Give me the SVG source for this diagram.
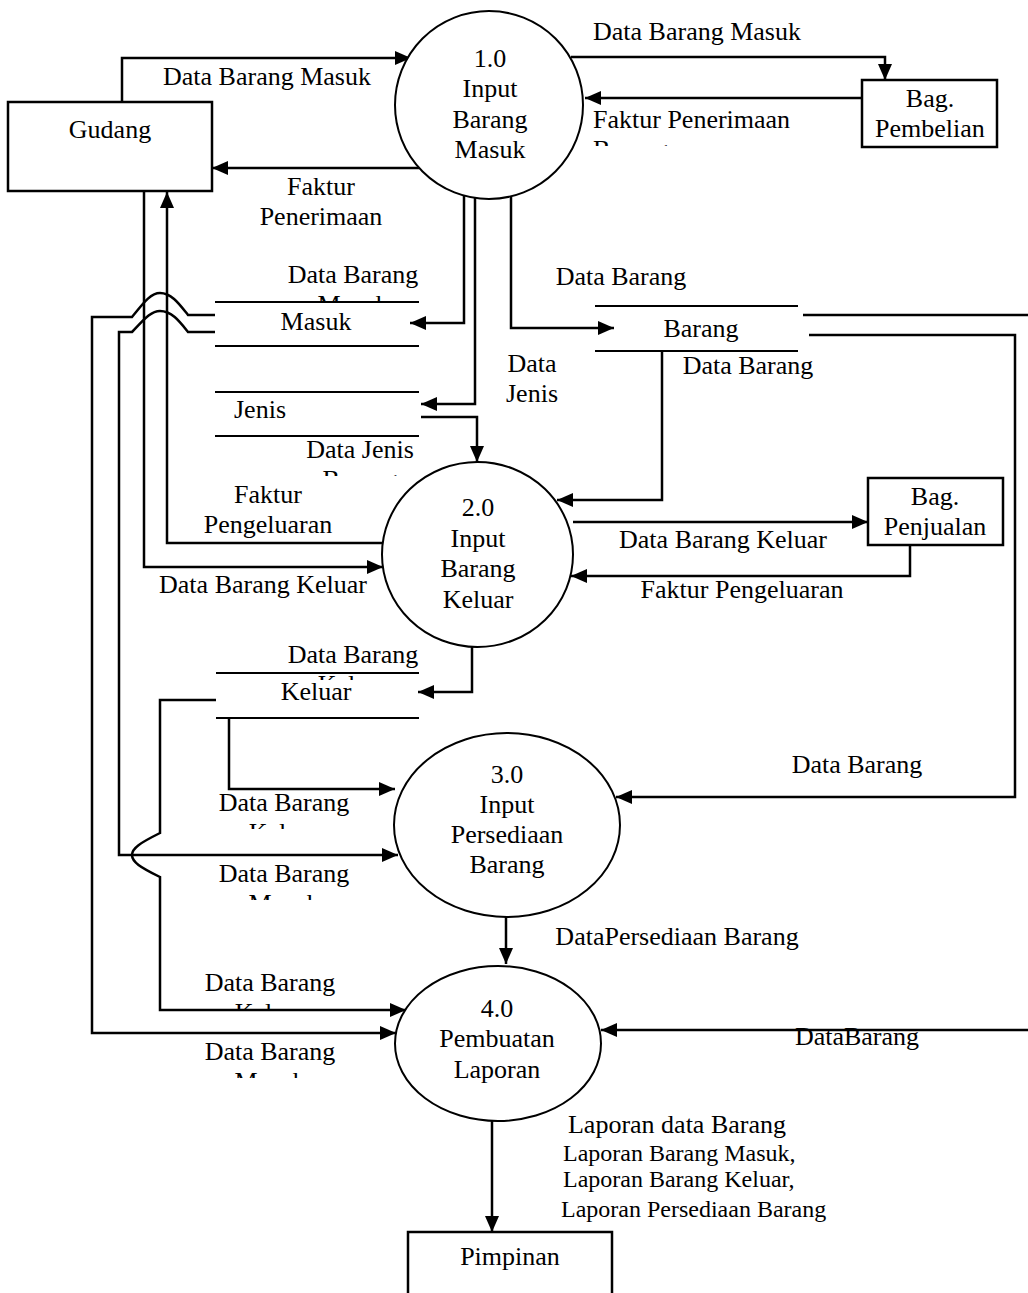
<svg xmlns="http://www.w3.org/2000/svg" width="1028" height="1293" viewBox="0 0 1028 1293">
<style>
text{font-family:"Liberation Serif","Times New Roman",serif;font-size:26px;fill:#000}
.m{text-anchor:middle}
.s{font-size:24px}
.c{fill:none;stroke:#000;stroke-width:2.5}
.e{fill:#fff;stroke:#000;stroke-width:2}
.r{fill:#fff;stroke:#000;stroke-width:2.5}
.st{stroke:#000;stroke-width:2}
</style>
<defs>
<marker id="a" markerUnits="userSpaceOnUse" markerWidth="16" markerHeight="14" refX="16" refY="7" orient="auto">
<path d="M0,0 L16,7 L0,14 z" fill="#000"/>
</marker>
<clipPath id="k1"><rect x="560" y="100" width="300" height="46"/></clipPath>
<clipPath id="k2"><rect x="270" y="255" width="160" height="46"/></clipPath>
<clipPath id="k3"><rect x="290" y="430" width="140" height="46"/></clipPath>
<clipPath id="k4"><rect x="270" y="635" width="160" height="45"/></clipPath>
<clipPath id="k5"><rect x="200" y="783" width="170" height="46"/></clipPath>
<clipPath id="k6"><rect x="200" y="854" width="170" height="46"/></clipPath>
<clipPath id="k7"><rect x="190" y="963" width="170" height="46"/></clipPath>
<clipPath id="k8"><rect x="190" y="1032" width="170" height="46"/></clipPath>
</defs>
<rect width="1028" height="1293" fill="#fff"/>

<g id="connectors">
<path class="c" d="M122,102 V58 H411" marker-end="url(#a)"/>
<path class="c" d="M419,168 H212" marker-end="url(#a)"/>
<path class="c" d="M571,57 H885 V80" marker-end="url(#a)"/>
<path class="c" d="M862,98 H585" marker-end="url(#a)"/>
<path class="c" d="M464,195 V323 H410" marker-end="url(#a)"/>
<path class="c" d="M475,197 V404 H421" marker-end="url(#a)"/>
<path class="c" d="M511,197 V328 H614" marker-end="url(#a)"/>
<path class="c" d="M421,417 H477 V462" marker-end="url(#a)"/>
<path class="c" d="M662,351 V500 H557" marker-end="url(#a)"/>
<path class="c" d="M383,543 H167 V192" marker-end="url(#a)"/>
<path class="c" d="M144,191 V567 H383" marker-end="url(#a)"/>
<path class="c" d="M573,522 H868" marker-end="url(#a)"/>
<path class="c" d="M910,545 V576 H571" marker-end="url(#a)"/>
<path class="c" d="M472,647 V692 H418" marker-end="url(#a)"/>
<path class="c" d="M215,315 H188 C180,305 172,293 160,293 C150,293 142,305 132,317 H92 V1033 H396" marker-end="url(#a)"/>
<path class="c" d="M215,332 H188 C180,322 172,311 160,311 C150,311 142,322 132,332 H119 V855 H398" marker-end="url(#a)"/>
<path class="c" d="M229,718 V789 H395" marker-end="url(#a)"/>
<path class="c" d="M216,700 H160 V833 C140,843 132,848 132,855 C132,862 140,867 160,877 V1010 H406" marker-end="url(#a)"/>
<path class="c" d="M809,335 H1015 V797 H616" marker-end="url(#a)"/>
<path class="c" d="M803,315 H1031 V1030 H601" marker-end="url(#a)"/>
<path class="c" d="M506,917 V964" marker-end="url(#a)"/>
<path class="c" d="M492,1121 V1232" marker-end="url(#a)"/>

<text class="m" x="267" y="85">Data Barang Masuk</text>
<text class="m" x="321" y="195">Faktur</text>
<text class="m" x="321" y="225">Penerimaan</text>
<text class="m" x="697" y="40">Data Barang Masuk</text>
<g clip-path="url(#k1)"><text x="593" y="128">Faktur Penerimaan</text><text x="593" y="158">Barang</text></g>
<g clip-path="url(#k2)"><text class="m" x="353" y="283">Data Barang</text><text class="m" x="353" y="313">Masuk</text></g>
<text class="m" x="621" y="285">Data Barang</text>
<text class="m" x="532" y="372">Data</text>
<text class="m" x="532" y="402">Jenis</text>
<text class="m" x="748" y="374">Data Barang</text>
<g clip-path="url(#k3)"><text class="m" x="360" y="458">Data Jenis</text><text class="m" x="360" y="488">Barang</text></g>
<text class="m" x="268" y="503">Faktur</text>
<text class="m" x="268" y="533">Pengeluaran</text>
<text class="m" x="263" y="593">Data Barang Keluar</text>
<text class="m" x="723" y="548">Data Barang Keluar</text>
<text class="m" x="742" y="598">Faktur Pengeluaran</text>
<g clip-path="url(#k4)"><text class="m" x="353" y="663">Data Barang</text><text class="m" x="353" y="693">Keluar</text></g>
<g clip-path="url(#k5)"><text class="m" x="284" y="811">Data Barang</text><text class="m" x="284" y="841">Keluar</text></g>
<g clip-path="url(#k6)"><text class="m" x="284" y="882">Data Barang</text><text class="m" x="284" y="912">Masuk</text></g>
<text class="m" x="857" y="773">Data Barang</text>
<text class="m" x="677" y="945">DataPersediaan Barang</text>
<g clip-path="url(#k7)"><text class="m" x="270" y="991">Data Barang</text><text class="m" x="270" y="1021">Keluar</text></g>
<g clip-path="url(#k8)"><text class="m" x="270" y="1060">Data Barang</text><text class="m" x="270" y="1090">Masuk</text></g>
<text class="m" x="857" y="1045">DataBarang</text>
<text class="m" x="677" y="1133">Laporan data Barang</text>
<text class="s" x="563" y="1161">Laporan Barang Masuk,</text>
<text class="s" x="563" y="1187">Laporan Barang Keluar,</text>
<text class="s" x="561" y="1217">Laporan Persediaan Barang</text>
</g>

<g id="gudang">
<rect class="r" x="8" y="102" width="204" height="89"/>
<text class="m" x="110" y="138">Gudang</text>
</g>
<g id="bag-pembelian">
<rect class="r" x="862" y="80" width="135" height="67"/>
<text class="m" x="930" y="107">Bag.</text>
<text class="m" x="930" y="137">Pembelian</text>
</g>
<g id="bag-penjualan">
<rect class="r" x="868" y="478" width="135" height="67"/>
<text class="m" x="935" y="505">Bag.</text>
<text class="m" x="935" y="535">Penjualan</text>
</g>
<g id="pimpinan">
<rect class="r" x="408" y="1232" width="204" height="89"/>
<text class="m" x="510" y="1265">Pimpinan</text>
</g>

<g id="p1">
<ellipse class="e" cx="489" cy="105" rx="94" ry="94"/>
<text class="m" x="490" y="67">1.0</text>
<text class="m" x="490" y="97">Input</text>
<text class="m" x="490" y="128">Barang</text>
<text class="m" x="490" y="158">Masuk</text>
</g>
<g id="p2">
<ellipse class="e" cx="477.5" cy="554.5" rx="95.5" ry="92.5"/>
<text class="m" x="478" y="516">2.0</text>
<text class="m" x="478" y="547">Input</text>
<text class="m" x="478" y="577">Barang</text>
<text class="m" x="478" y="608">Keluar</text>
</g>
<g id="p3">
<ellipse class="e" cx="507" cy="825" rx="113" ry="92"/>
<text class="m" x="507" y="783">3.0</text>
<text class="m" x="507" y="813">Input</text>
<text class="m" x="507" y="843">Persediaan</text>
<text class="m" x="507" y="873">Barang</text>
</g>
<g id="p4">
<ellipse class="e" cx="498" cy="1043.5" rx="103" ry="77.5"/>
<text class="m" x="497" y="1017">4.0</text>
<text class="m" x="497" y="1047">Pembuatan</text>
<text class="m" x="497" y="1078">Laporan</text>
</g>

<g id="ds-masuk">
<line class="st" x1="215" y1="302" x2="419" y2="302"/>
<line class="st" x1="215" y1="346" x2="419" y2="346"/>
<text class="m" x="316" y="330">Masuk</text>
</g>
<g id="ds-jenis">
<line class="st" x1="215" y1="392" x2="419" y2="392"/>
<line class="st" x1="215" y1="436" x2="419" y2="436"/>
<text x="234" y="418">Jenis</text>
</g>
<g id="ds-barang">
<line class="st" x1="595" y1="306" x2="798" y2="306"/>
<line class="st" x1="595" y1="351" x2="798" y2="351"/>
<text class="m" x="701" y="337">Barang</text>
</g>
<g id="ds-keluar">
<line class="st" x1="216" y1="673" x2="419" y2="673"/>
<line class="st" x1="216" y1="718" x2="419" y2="718"/>
<text class="m" x="316" y="700">Keluar</text>
</g>
</svg>
